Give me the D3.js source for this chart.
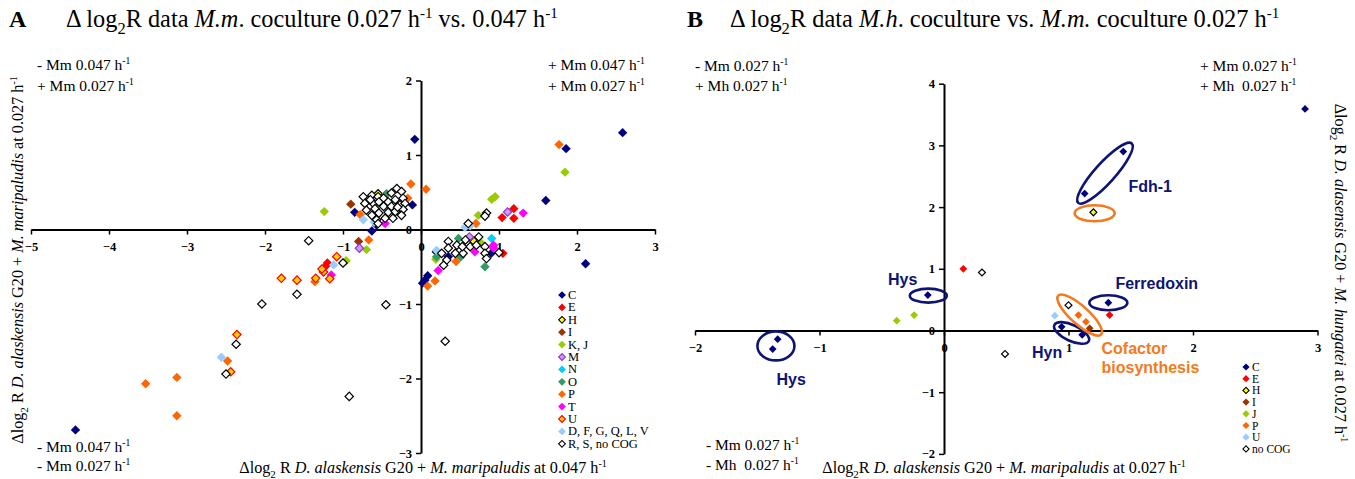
<!DOCTYPE html>
<html>
<head>
<meta charset="utf-8">
<script src="https://cdn.jsdelivr.net/npm/d3@7"></script>
<style>
body { margin: 0; background: #fff; }
svg text { font-family: "Liberation Serif", "Times New Roman", serif; fill: #000; }
.note { font-family: "Liberation Sans", Arial, sans-serif; font-weight: bold; font-size: 16px; }
</style>
</head>
<body>
<svg id="chart" width="1355" height="479"></svg>
<script>
// ---- panel A : M.m. coculture 0.027 vs 0.047 ----
const catsA = ["C", "E", "H", "I", "K, J", "M", "N", "O", "P", "T", "U", "D, F, G, Q, L, V", "R, S, no COG"];
const ticksAx = [-5, -4, -3, -2, -1, 0, 1, 2, 3];
const ticksAy = [-3, -2, -1, 0, 1, 2];

const aC = [[2.585, 1.30], [1.86, 1.085], [1.60, 0.39], [2.11, -0.46], [-0.08, 1.21], [-4.43, -2.69],
  [-0.85, 0.23], [-0.63, -0.02], [-0.57, 0.06], [-0.11, 0.33], [0.05, -0.68], [0.02, -0.72],
  [0.086, -0.62], [0.35, -0.365], [0.9, -0.32]];
const aE = [[1.19, 0.28], [1.04, 0.16], [1.19, 0.15], [1.05, -0.32], [-1.2, -0.45], [-1.22, -0.49]];
const aH = [[0.2, -0.30], [0.68, -0.16], [-0.55, 0.48]];
const aI = [[-0.90, 0.34], [-0.80, -0.16], [-0.45, 0.47]];
const aKJ = [[1.846, 0.77], [0.906, 0.405], [0.95, 0.44], [0.735, 0.19], [-1.24, 0.24], [-0.96, -0.42],
  [-0.7, -0.27], [0.19, -0.40], [0.76, -0.17]];
const aM = [[1.11, 0.235], [0.62, -0.1], [-0.79, -0.25]];
const aN = [[0.906, -0.12], [-0.55, 0.37], [-0.25, 0.25]];
const aO = [[0.82, -0.5], [0.48, -0.12], [0.51, -0.365], [0.2, -0.365], [-0.44, 0.48]];
const aP = [[1.77, 1.14], [0.705, 0.08], [-0.13, 0.61], [0.065, 0.54], [-0.78, 0.20], [-0.17, 0.42],
  [-0.67, -0.14], [0.085, -0.76], [0.18, -0.69], [0.45, -0.43], [-2.48, -1.765], [-3.13, -1.985],
  [-3.53, -2.07], [-3.13, -2.5], [-1.36, -0.70], [-0.22, 0.35]];
const aT = [[1.31, 0.22], [0.93, -0.21], [0.93, -0.25], [0.22, -0.55], [0.69, -0.30], [-1.15, -0.61], [-0.46, 0.08]];
const aU = [[-1.08, -0.365], [-1.25, -0.57], [-1.17, -0.66], [-1.35, -0.655], [-1.59, -0.68], [-1.79, -0.655],
  [-2.36, -1.41], [-2.44, -1.91], [-1.27, -0.53]];
const aD = [[0.564, 0.03], [-1.12, -0.475], [-2.56, -1.715], [-0.74, 0.13], [-0.60, 0.10], [-0.25, 0.2],
  [0.2, -0.28], [0.63, 0.05]];
const aR = [[0.606, 0.08], [0.84, 0.22], [0.82, 0.18], [0.74, -0.1], [1.0, -0.31], [0.35, -0.16], [0.46, -0.21],
  [0.35, -0.25], [0.63, -0.23], [0.71, -0.21], [0.82, -0.23], [0.82, -0.32], [0.84, -0.39], [0.265, -0.32],
  [0.33, -0.41], [0.29, -0.48], [0.54, -0.32], [0.44, -0.32], [0.53, -0.23], [0.57, -0.14],
  [-1.44, -0.15], [-1.0, -0.45], [-1.59, -0.87], [-2.04, -1.0], [-2.37, -1.54], [-2.50, -1.94],
  [-0.92, -2.24], [0.31, -1.50], [-0.45, -1.01],
  [-0.74, 0.44], [-0.63, 0.46], [-0.55, 0.44], [-0.48, 0.42], [-0.38, 0.49], [-0.31, 0.55], [-0.25, 0.51],
  [-0.72, 0.35], [-0.61, 0.35], [-0.54, 0.37], [-0.42, 0.37], [-0.33, 0.40], [-0.23, 0.42],
  [-0.70, 0.26], [-0.59, 0.28], [-0.48, 0.31], [-0.38, 0.31], [-0.27, 0.33], [-0.205, 0.35],
  [-0.63, 0.19], [-0.54, 0.22], [-0.42, 0.23], [-0.33, 0.24], [-0.23, 0.27],
  [-0.57, 0.13], [-0.46, 0.15], [-0.36, 0.15], [-0.25, 0.19], [-0.55, 0.08], [-0.30, 0.30], [-0.65, 0.40]];
const seriesA = [aC, aE, aH, aI, aKJ, aM, aN, aO, aP, aT, aU, aD, aR];

// ---- panel B : M.h. coculture vs M.m. coculture 0.027 ----
const catsB = ["C", "E", "H", "I", "J", "P", "U", "no COG"];
const ticksBx = [-2, -1, 0, 1, 2, 3];
const ticksBy = [-2, -1, 0, 1, 2, 3, 4];

const bC = [[2.90, 3.59], [1.44, 2.9], [1.13, 2.22], [-0.13, 0.575], [-1.336, -0.14], [-1.376, -0.30],
  [0.945, 0.06], [1.11, -0.07], [1.32, 0.45]];
const bE = [[0.155, 1.0], [1.33, 0.25]];
const bH = [[1.20, 1.915]];
const bI = [[1.17, 0.035]];
const bJ = [[-0.38, 0.16], [-0.24, 0.25]];
const bP = [[1.08, 0.25], [1.14, 0.14]];
const bU = [[0.89, 0.24]];
const bNo = [[0.305, 0.94], [1.0, 0.41], [0.49, -0.38]];
const seriesB = [bC, bE, bH, bI, bJ, bP, bU, bNo];

// highlighted gene groups in B (centre in data units)
const groupsB = [
  { cx: 1.293, cy: 2.55, rx: 40, ry: 10, rot: -48, col: "navy" },
  { cx: 1.21, cy: 1.90, rx: 20, ry: 8, rot: 0, col: "orange" },
  { cx: -0.126, cy: 0.565, rx: 18.5, ry: 7, rot: 0, col: "navy" },
  { cx: -1.35, cy: -0.25, rx: 18.5, ry: 14.5, rot: 0, col: "navy" },
  { cx: 1.32, cy: 0.45, rx: 19, ry: 7.5, rot: 0, col: "navy" },
  { cx: 1.025, cy: -0.04, rx: 19, ry: 8, rot: 25, col: "navy" },
  { cx: 1.09, cy: 0.25, rx: 29, ry: 9, rot: 42, col: "orange" }
];
const labelsB = [
  { t: ["Fdh-1"], x: 1.481, y: 2.24, col: "navy" },
  { t: ["Ferredoxin"], x: 1.377, y: 0.67, col: "navy" },
  { t: ["Hys"], x: -0.45, y: 0.74, col: "navy" },
  { t: ["Hys"], x: -1.345, y: -0.88, col: "navy" },
  { t: ["Hyn"], x: 0.707, y: -0.44, col: "navy" },
  { t: ["Cofactor", "biosynthesis"], x: 1.265, y: -0.38, col: "orange" }
];

const colors = { navy: "#0d1473", orange: "#f47a20" };
const styleA = [
  { f: "#000080", s: "none" }, { f: "#ff0000", s: "none" }, { f: "#ffff00", s: "#000" },
  { f: "#993300", s: "none" }, { f: "#99cc00", s: "none" }, { f: "#cc99ff", s: "#9933cc" },
  { f: "#00ccff", s: "none" }, { f: "#339966", s: "none" }, { f: "#ff6600", s: "none" },
  { f: "#ff00ff", s: "none" }, { f: "#ffcc00", s: "#ff0000" }, { f: "#99ccff", s: "none" },
  { f: "#ffffff", s: "#000" }];
const styleB = [
  { f: "#000080", s: "none" }, { f: "#ff0000", s: "none" }, { f: "#ffff00", s: "#000" },
  { f: "#993300", s: "none" }, { f: "#99cc00", s: "none" }, { f: "#ff6600", s: "none" },
  { f: "#99ccff", s: "none" }, { f: "#ffffff", s: "#000" }];

const svg = d3.select("#chart");

// text with sub/superscripts and italics
function rich(g, parts, fs) {
  let cur = 0;
  parts.forEach(p => {
    const ts = g.append("tspan").text(p.t);
    let shift = 0;
    if (p.sub) { shift = fs * 0.28; ts.attr("font-size", fs * 0.68); }
    if (p.sup) { shift = -fs * 0.38; ts.attr("font-size", fs * 0.62); }
    if (shift !== cur) ts.attr("dy", shift - cur);
    cur = shift;
    if (p.it) ts.attr("font-style", "italic");
    if (p.b) ts.attr("font-weight", "bold");
  });
  return g;
}
function label(x, y, parts, fs, opts = {}) {
  const t = svg.append("text").attr("font-size", fs);
  if (opts.rot) t.attr("transform", `translate(${x},${y}) rotate(${opts.rot})`);
  else t.attr("x", x).attr("y", y);
  if (opts.anchor) t.attr("text-anchor", opts.anchor);
  return rich(t, parts, fs);
}

function diamond(sel, size) {
  return sel.attr("d", d3.symbol(d3.symbolSquare, size)());
}

function panel(cfg) {
  const x = d3.scaleLinear().domain(cfg.xd).range(cfg.xr);
  const y = d3.scaleLinear().domain(cfg.yd).range(cfg.yr);
  const g = svg.append("g");

  g.append("g")
    .attr("transform", `translate(0,${y(0)})`)
    .call(d3.axisBottom(x).tickValues(cfg.xt).tickSize(5).tickSizeOuter(0).tickPadding(8).tickFormat(d3.format("d")))
    .call(a => a.select(".domain").attr("stroke-width", 2));
  g.append("g")
    .attr("transform", `translate(${x(0)},0)`)
    .call(d3.axisLeft(y).tickValues(cfg.yt).tickSize(5).tickSizeOuter(0).tickPadding(4).tickFormat(d3.format("d")))
    .call(a => a.select(".domain").attr("stroke-width", 2));
  g.selectAll(".tick line").attr("stroke-width", 1.5);
  g.selectAll(".tick text").attr("font-family", "Liberation Serif").attr("font-size", 12.5).attr("font-weight", "bold");

  cfg.series.forEach((pts, i) => {
    const st = cfg.style[i];
    g.append("g").selectAll("path")
      .data(pts)
      .join("path")
      .call(diamond, st.s === "none" ? cfg.size : cfg.size * 0.8)
      .attr("transform", d => `translate(${x(d[0])},${y(d[1])}) rotate(45)`)
      .attr("fill", st.f)
      .attr("stroke", st.s)
      .attr("stroke-width", st.s === "none" ? 0 : 1.2);
  });

  // legend
  const lg = g.append("g");
  cfg.cats.forEach((c, i) => {
    const st = cfg.style[i];
    const ly = cfg.lg.y + i * cfg.lg.dy;
    lg.append("path").call(diamond, st.s === "none" ? cfg.lg.size : cfg.lg.size * 0.75)
      .attr("transform", `translate(${cfg.lg.x},${ly}) rotate(45)`)
      .attr("fill", st.f).attr("stroke", st.s).attr("stroke-width", st.s === "none" ? 0 : 1.1);
    lg.append("text").attr("x", cfg.lg.x + 6).attr("y", ly + 4)
      .attr("font-size", cfg.lg.fs).text(c);
  });
  return { x, y, g };
}

// ---------- panel A ----------
const A = panel({
  xd: [-5, 3], xr: [31, 655], yd: [-3, 2], yr: [453, 80.5],
  xt: ticksAx, yt: ticksAy, series: seriesA, style: styleA, cats: catsA, size: 44,
  lg: { x: 562, y: 295, dy: 12.4, size: 30, fs: 12.5 }
});

// ---------- panel B ----------
const B = panel({
  xd: [-2, 3], xr: [695, 1317.5], yd: [-2, 4], yr: [453.9, 83.7],
  xt: ticksBx, yt: ticksBy, series: seriesB, style: styleB, cats: catsB, size: 30,
  lg: { x: 1246, y: 367, dy: 11.7, size: 26, fs: 11.5 }
});

groupsB.forEach(e => {
  B.g.append("ellipse")
    .attr("transform", `translate(${B.x(e.cx)},${B.y(e.cy)}) rotate(${e.rot})`)
    .attr("rx", e.rx).attr("ry", e.ry)
    .attr("fill", "none").attr("stroke", colors[e.col]).attr("stroke-width", 2.6);
});
labelsB.forEach(l => {
  const t = B.g.append("text").attr("class", "note").style("fill", colors[l.col]);
  l.t.forEach((s, i) => t.append("tspan").attr("x", B.x(l.x)).attr("y", B.y(l.y) + i * 19).text(s));
});

// ---------- titles ----------
svg.append("text").attr("x", 9).attr("y", 27).attr("font-size", 24).attr("font-weight", "bold").text("A");
label(66, 27, [{ t: "Δ log" }, { t: "2", sub: 1 }, { t: "R data " }, { t: "M.m", it: 1 }, { t: ". coculture 0.027 h" },
  { t: "-1", sup: 1 }, { t: " vs. 0.047 h" }, { t: "-1", sup: 1 }], 24.3);
svg.append("text").attr("x", 687).attr("y", 27).attr("font-size", 24).attr("font-weight", "bold").text("B");
label(730, 27, [{ t: "Δ log" }, { t: "2", sub: 1 }, { t: "R data " }, { t: "M.h", it: 1 }, { t: ". coculture vs. " },
  { t: "M.m.", it: 1 }, { t: " coculture 0.027 h" }, { t: "-1", sup: 1 }], 24.4);

// quadrant notes
const h1 = [{ t: "-1", sup: 1 }];
const qs = 15.5;
label(37, 70, [{ t: "- Mm 0.047 h" }, ...h1], qs);
label(37, 91, [{ t: "+ Mm 0.027 h" }, ...h1], qs);
label(548, 70, [{ t: "+ Mm 0.047 h" }, ...h1], qs);
label(548, 91, [{ t: "+ Mm 0.027 h" }, ...h1], qs);
label(37, 452, [{ t: "- Mm 0.047 h" }, ...h1], qs);
label(37, 471, [{ t: "- Mm 0.027 h" }, ...h1], qs);

label(695, 71, [{ t: "- Mm 0.027 h" }, ...h1], qs);
label(695, 91, [{ t: "+ Mh 0.027 h" }, ...h1], qs);
label(1200, 71, [{ t: "+ Mm 0.027 h" }, ...h1], qs);
label(1200, 91, [{ t: "+ Mh\u00a0 0.027 h" }, ...h1], qs);
label(706, 450, [{ t: "- Mm 0.027 h" }, ...h1], qs);
label(706, 470, [{ t: "- Mh\u00a0 0.027 h" }, ...h1], qs);

// axis titles
const ts = 16.2;
label(423, 473, [{ t: "Δlog" }, { t: "2", sub: 1 }, { t: " R " }, { t: "D. alaskensis", it: 1 }, { t: " G20 + " },
  { t: "M. maripaludis", it: 1 }, { t: " at 0.047 h" }, ...h1], ts, { anchor: "middle" });
label(23, 260, [{ t: "Δlog" }, { t: "2", sub: 1 }, { t: " R " }, { t: "D. alaskensis", it: 1 }, { t: " G20 + " },
  { t: "M. maripaludis", it: 1 }, { t: " at 0.027 h" }, ...h1], ts, { anchor: "middle", rot: -90 });
label(1004, 473, [{ t: "Δlog" }, { t: "2", sub: 1 }, { t: "R " }, { t: "D. alaskensis", it: 1 }, { t: " G20 + " },
  { t: "M. maripaludis", it: 1 }, { t: " at 0.027 h" }, ...h1], ts, { anchor: "middle" });
label(1335, 273, [{ t: "Δlog" }, { t: "2", sub: 1 }, { t: " R " }, { t: "D. alasensis", it: 1 }, { t: " G20 + " },
  { t: "M. hungatei", it: 1 }, { t: " at 0.027 h" }, ...h1], ts, { anchor: "middle", rot: 90 });
</script>
</body>
</html>
